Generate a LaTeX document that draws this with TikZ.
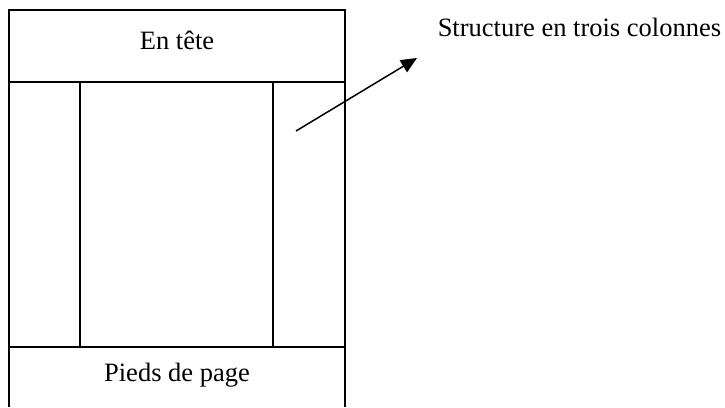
\documentclass[tikz,border=0pt]{standalone}
\usepackage{fontspec}
\setmainfont{Liberation Serif}
\usetikzlibrary{arrows.meta}

\begin{document}
\begin{tikzpicture}[x=1pt,y=-1pt,line width=1.5pt,
	every node/.style={font=\fontsize{26.5}{30}\selectfont},
	cell/.style={draw,inner sep=0pt,outer sep=0pt,minimum height=265pt}]
		\useasboundingbox (0,0) rectangle (725,407);
		\node [draw,inner sep=0pt,outer sep=0pt,minimum width=336pt,minimum height=72pt] (header) at (177,46) {};
		\node [anchor=base] (headtext) at (177,49) {En tête};
		\node [cell,minimum width=71pt] (leftcol) at (44.5,214.5) {};
		\node [cell,minimum width=193pt] (midcol) at (176.5,214.5) {};
		\node [cell,minimum width=72pt] (rightcol) at (309,214.5) {};
		\coordinate (footleft) at (9,407);
		\coordinate (footright) at (345,407);
		\draw (leftcol.south west) -- (footleft);
		\draw (rightcol.south east) -- (footright);
		\node [anchor=base] (foottext) at (177,381) {Pieds de page};

		\node [anchor=base west,inner sep=0pt] (structlabel) at (437,36) {Structure en trois colonnes};
		\coordinate (arrowtail) at (296,131);
		\coordinate (arrowtip) at (417,58);
		\draw [-{Triangle[length=16pt,width=14pt]}] (arrowtail) -- (arrowtip);
\end{tikzpicture}
\end{document}
